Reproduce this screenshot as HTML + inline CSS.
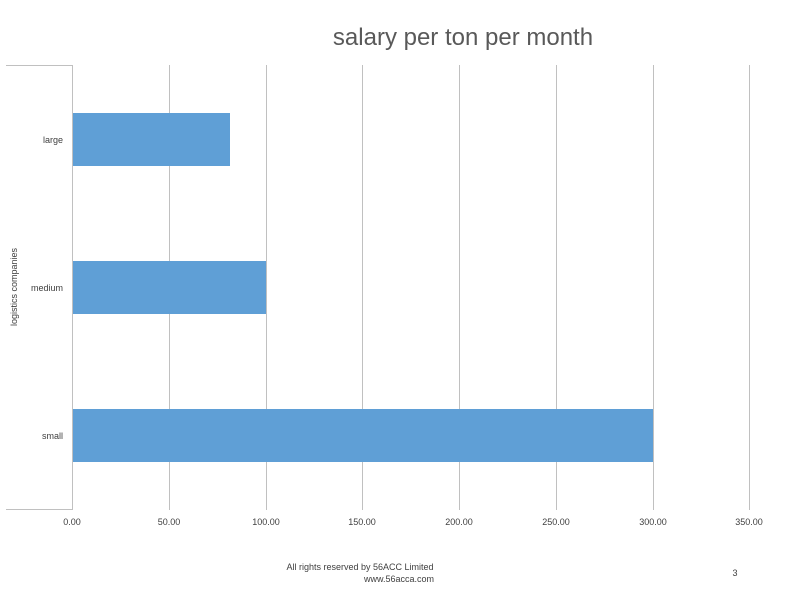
<!DOCTYPE html><html><head><style>body{margin:0;width:800px;height:600px;background:#fff;overflow:hidden}</style></head><body>
<svg width="800" height="600" xmlns="http://www.w3.org/2000/svg" font-family="Liberation Sans, sans-serif">
<text x="463" y="45" font-size="24" fill="#595959" text-anchor="middle">salary per ton per month</text>
<g stroke="#c0c0c0" stroke-width="1">
<line x1="6" y1="65.5" x2="72" y2="65.5"/><line x1="6" y1="509.5" x2="72" y2="509.5"/>
<line x1="72.5" y1="65" x2="72.5" y2="510"/>
<line x1="169.5" y1="65" x2="169.5" y2="510"/><line x1="266.5" y1="65" x2="266.5" y2="510"/>
<line x1="362.5" y1="65" x2="362.5" y2="510"/><line x1="459.5" y1="65" x2="459.5" y2="510"/>
<line x1="556.5" y1="65" x2="556.5" y2="510"/><line x1="653.5" y1="65" x2="653.5" y2="510"/>
<line x1="749.5" y1="65" x2="749.5" y2="510"/>
</g>
<g fill="#5f9fd6">
<rect x="73" y="113" width="157" height="53"/>
<rect x="73" y="261" width="193" height="53"/>
<rect x="73" y="409" width="580" height="53"/>
</g>
<g font-size="9" fill="#404040" text-anchor="end">
<text x="63" y="143">large</text><text x="63" y="291">medium</text><text x="63" y="439">small</text>
</g>
<g font-size="9" fill="#404040" text-anchor="middle">
<text x="72" y="525">0.00</text><text x="169" y="525">50.00</text><text x="266" y="525">100.00</text>
<text x="362" y="525">150.00</text><text x="459" y="525">200.00</text><text x="556" y="525">250.00</text>
<text x="653" y="525">300.00</text><text x="749" y="525">350.00</text>
</g>
<text transform="translate(17,287) rotate(-90)" font-size="9" fill="#404040" text-anchor="middle">logistics companies</text>
<text x="360" y="570" font-size="9" fill="#404040" text-anchor="middle">All rights reserved by 56ACC Limited</text>
<text x="399" y="582" font-size="9" fill="#404040" text-anchor="middle">www.56acca.com</text>
<text x="735" y="576" font-size="9" fill="#404040" text-anchor="middle">3</text>
</svg></body></html>
